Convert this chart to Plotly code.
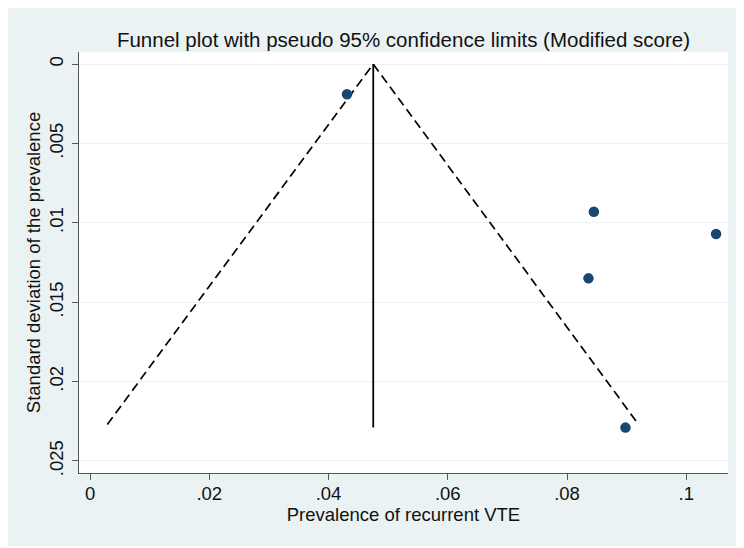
import plotly.graph_objects as go

# Study estimates
prevalence = [0.0431, 0.0845, 0.1050, 0.0836, 0.0898]
std_dev = [0.0019, 0.0093, 0.0107, 0.0135, 0.0229]

# Pooled estimate and pseudo 95% confidence limits
pooled = 0.0475
funnel_sd = [0.0227, 0.0, 0.0227]
funnel_x = [0.0029, 0.0475, 0.0920]
vline_sd = [0.0, 0.0229]

x_ticks = [0, 0.02, 0.04, 0.06, 0.08, 0.1]
x_ticklabels = ["0", ".02", ".04", ".06", ".08", ".1"]
y_ticks = [0, 0.005, 0.01, 0.015, 0.02, 0.025]
y_ticklabels = ["0", ".005", ".01", ".015", ".02", ".025"]

PANEL = "#eaf2f3"
FONT = "Liberation Sans, Arial, sans-serif"

W, H = 736, 540
L, T, R, B = 71, 44, 16, 75
pw, ph = W - L - R, H - T - B

fig = go.Figure()
fig.add_trace(go.Scatter(x=funnel_x, y=funnel_sd, mode="lines",
                         line=dict(color="black", width=1.7, dash="9px,5px"),
                         hoverinfo="skip", showlegend=False))
fig.add_trace(go.Scatter(x=[pooled, pooled], y=vline_sd, mode="lines",
                         line=dict(color="black", width=1.8),
                         hoverinfo="skip", showlegend=False))
fig.add_trace(go.Scatter(x=prevalence, y=std_dev, mode="markers",
                         marker=dict(color="#1a476f", size=10.5,
                                     line=dict(width=0)),
                         showlegend=False))

fig.update_layout(
    width=W, height=H,
    margin=dict(l=L, r=R, t=T, b=B),
    paper_bgcolor="white",
    plot_bgcolor="white",
    font=dict(family=FONT, size=18, color="#111111"),
    title=dict(text="Funnel plot with pseudo 95% confidence limits (Modified score)",
               x=(L + pw / 2) / W, xanchor="center",
               y=1 - 32 / H, yanchor="middle",
               font=dict(size=20.5, family=FONT, color="#111111")),
    shapes=[
        dict(type="rect", xref="paper", yref="paper", layer="below",
             x0=-L / pw - 0.01, x1=(W - L) / pw + 0.01,
             y0=-(B - 2) / ph, y1=(H - B) / ph + 0.01,
             fillcolor=PANEL, line=dict(width=0)),
        dict(type="rect", xref="paper", yref="paper", layer="below",
             x0=0, x1=1, y0=0, y1=1,
             fillcolor="white", line=dict(width=0)),
    ],
)

fig.update_xaxes(
    range=[-0.00185, 0.1070],
    tickvals=x_ticks, ticktext=x_ticklabels,
    showgrid=False, zeroline=False,
    showline=True, linecolor="#555555", linewidth=1.3,
    ticks="outside", ticklen=6, tickcolor="#555555", tickwidth=1.3,
    tickfont=dict(size=18.5), ticklabelstandoff=-2,
    title=dict(text="Prevalence of recurrent VTE", font=dict(size=18.5), standoff=0),
)
fig.update_yaxes(
    range=[0.02576, -0.00076],
    tickvals=y_ticks, ticktext=y_ticklabels, tickangle=-90,
    showgrid=True, gridcolor=PANEL, gridwidth=1.2, zeroline=False,
    showline=True, linecolor="#555555", linewidth=1.3,
    ticks="outside", ticklen=6, tickcolor="#555555", tickwidth=1.3,
    tickfont=dict(size=18.5), ticklabelstandoff=1,
    title=dict(text="Standard deviation of the prevalence", font=dict(size=18.5), standoff=0),
)

fig.write_html("out.html")
